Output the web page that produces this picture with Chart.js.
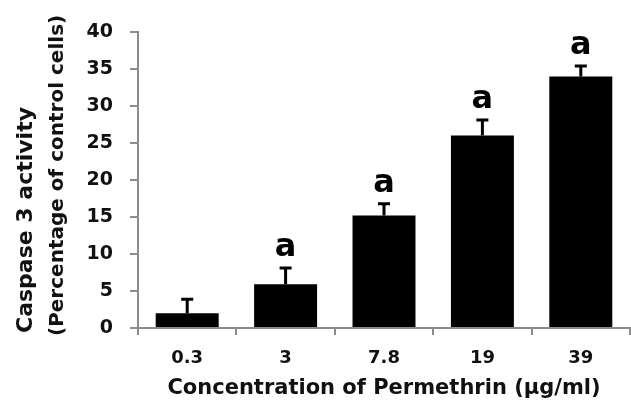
<!DOCTYPE html>
<html>
<head>
<meta charset="utf-8">
<script src="https://cdn.jsdelivr.net/npm/chart.js@4"></script>
<style>
  html, body { margin: 0; padding: 0; background: #fff; }
</style>
</head>
<body>
<canvas id="caspaseChart" width="631" height="402"></canvas>
<script>
// Data
const doses = ['0.3', '3', '7.8', '19', '39'];
const caspase = [2.0, 5.9, 15.2, 26.0, 34.0];
const errors = [1.9, 2.2, 1.6, 2.1, 1.4];
const significance = ['', 'a', 'a', 'a', 'a'];
const yTitleLines = ['Caspase 3 activity', '(Percentage of control cells)'];

const axisGrey = '#8c8c8c';
const fontFamily = '"DejaVu Sans", sans-serif';

// error bars + "a" letters above each bar
const errorBars = {
    id: 'errorBars',
    afterDatasetsDraw(chart) {
        const ctx = chart.ctx;
        const y = chart.scales.y;
        const bars = chart.getDatasetMeta(0).data;
        ctx.save();
        ctx.strokeStyle = '#000';
        ctx.fillStyle = '#000';
        ctx.lineWidth = 3;
        ctx.font = 'bold 32px ' + fontFamily;
        ctx.textAlign = 'center';
        ctx.textBaseline = 'alphabetic';
        bars.forEach((bar, i) => {
            const top = y.getPixelForValue(caspase[i] + errors[i]);
            ctx.beginPath();
            ctx.moveTo(bar.x, bar.y);
            ctx.lineTo(bar.x, top);
            ctx.moveTo(bar.x - 6, top);
            ctx.lineTo(bar.x + 6, top);
            ctx.stroke();
            if (significance[i]) {
                ctx.fillText(significance[i], bar.x, top - 12);
            }
        });
        ctx.restore();
    }
};

// two-line rotated y title, both lines starting at the bottom
const yTitle = {
    id: 'yTitle',
    afterDraw(chart) {
        const ctx = chart.ctx;
        const lines = [
            { text: yTitleLines[0], x: 32, y: 333, size: 22 },
            { text: yTitleLines[1], x: 63, y: 336, size: 20 }
        ];
        ctx.save();
        ctx.fillStyle = '#111';
        ctx.textAlign = 'left';
        ctx.textBaseline = 'alphabetic';
        lines.forEach(l => {
            ctx.save();
            ctx.translate(l.x, l.y);
            ctx.rotate(-Math.PI / 2);
            ctx.font = 'bold ' + l.size + 'px ' + fontFamily;
            ctx.fillText(l.text, 0, 0);
            ctx.restore();
        });
        ctx.restore();
    }
};

const ctx = document.getElementById('caspaseChart').getContext('2d');
const caspaseChart = new Chart(ctx, {
    type: 'bar',
    data: {
        labels: doses,
        datasets: [{
            data: caspase,
            backgroundColor: '#000',
            borderWidth: 0,
            categoryPercentage: 1,
            barPercentage: 0.64
        }]
    },
    options: {
        responsive: false,
        animation: false,
        devicePixelRatio: 1,
        layout: { padding: { top: 32, right: 1, bottom: 0, left: 0 } },
        plugins: {
            legend: { display: false },
            tooltip: { enabled: false }
        },
        scales: {
            x: {
                afterFit: scale => { scale.height = 74; },
                grid: { drawOnChartArea: false, color: axisGrey, lineWidth: 2, tickLength: 7 },
                border: { color: axisGrey, width: 2 },
                ticks: {
                    color: '#111',
                    padding: 13,
                    font: { family: fontFamily, size: 18, weight: 'bold' }
                },
                title: {
                    display: true,
                    text: 'Concentration of Permethrin (µg/ml)',
                    color: '#111',
                    padding: { top: 0, bottom: 1 },
                    font: { family: fontFamily, size: 21, weight: 'bold' }
                }
            },
            y: {
                min: 0,
                max: 40,
                afterFit: scale => { scale.width = 138; },
                grid: { drawOnChartArea: false, color: axisGrey, lineWidth: 2, tickLength: 8 },
                border: { color: axisGrey, width: 2 },
                ticks: {
                    stepSize: 5,
                    color: '#111',
                    padding: 17,
                    font: { family: fontFamily, size: 19, weight: 'bold' }
                }
            }
        }
    },
    plugins: [errorBars, yTitle]
});
</script>
</body>
</html>
